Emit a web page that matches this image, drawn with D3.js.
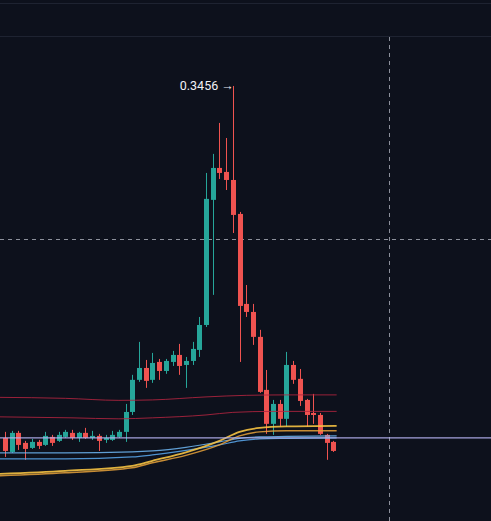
<!DOCTYPE html>
<html>
<head>
<meta charset="utf-8">
<script src="https://cdn.jsdelivr.net/npm/d3@7"></script>
<style>
  html, body { margin: 0; padding: 0; background: #0d111c; overflow: hidden; }
  #chart { width: 491px; height: 521px; }
</style>
</head>
<body>
<div id="chart"></div>
<script>
// candles: [open, high, low, close]
var opens  = [0.1000,0.0902,0.1035,0.0965,0.0930,0.0972,0.0951,0.1007,0.0979,0.1007,
              0.1035,0.1000,0.1035,0.1000,0.1014,0.0986,0.0986,0.1007,0.1042,0.1181,
              0.1405,0.1488,0.1405,0.1530,0.1467,0.1530,0.1579,0.1509,0.1537,0.1614,
              0.1788,0.2661,0.2884,0.2856,0.2800,0.2563,0.1935,0.1879,0.1705,0.1335,
              0.1098,0.1237,0.1133,0.1509,0.1412,0.1265,0.1174,0.1160,0.1021,0.0972];
var highs  = [0.1042,0.1049,0.1049,0.0979,0.0993,0.0986,0.1042,0.1021,0.1042,0.1056,
              0.1056,0.1042,0.1070,0.1049,0.1028,0.1021,0.1049,0.1056,0.1237,0.1440,
              0.1670,0.1544,0.1593,0.1551,0.1551,0.1607,0.1656,0.1565,0.1670,0.1844,
              0.2849,0.2982,0.3198,0.3093,0.3456,0.2577,0.2067,0.1935,0.1754,0.1474,
              0.1265,0.1265,0.1600,0.1537,0.1481,0.1272,0.1307,0.1174,0.1028,0.0979];
var lows   = [0.0867,0.0895,0.0916,0.0847,0.0923,0.0923,0.0944,0.0944,0.0972,0.1000,
              0.0986,0.0972,0.0993,0.0986,0.0909,0.0965,0.0979,0.1000,0.0972,0.1160,
              0.1391,0.1349,0.1384,0.1405,0.1447,0.1502,0.1440,0.1349,0.1509,0.1565,
              0.1774,0.1998,0.2807,0.2730,0.2430,0.1530,0.1844,0.1649,0.1314,0.1028,
              0.1021,0.1077,0.1077,0.1377,0.1223,0.1077,0.1098,0.1021,0.0847,0.0902];
var closes = [0.0909,0.1035,0.0951,0.0923,0.0972,0.0944,0.1014,0.0965,0.1021,0.1042,
              0.1000,0.1035,0.1000,0.1014,0.0979,0.1000,0.1021,0.1042,0.1181,0.1405,
              0.1488,0.1398,0.1523,0.1467,0.1537,0.1579,0.1502,0.1537,0.1621,0.1788,
              0.2668,0.2884,0.2849,0.2800,0.2556,0.1921,0.1879,0.1705,0.1321,0.1098,
              0.1237,0.1133,0.1509,0.1405,0.1258,0.1160,0.1160,0.1028,0.0965,0.0909];

// overlay lines (index along the candles, value)
var redUpIdx   = [-1, 9, 17, 22, 30, 36, 42, 49.5];
var redUpVal   = [0.1283,0.1276,0.1262,0.1265,0.1286,0.1297,0.1300,0.1300];
var redLowIdx  = [-1, 10, 17, 22, 30, 34, 40, 49.5];
var redLowVal  = [0.1147,0.1140,0.1133,0.1140,0.1160,0.1178,0.1185,0.1185];
var maIdx      = [-1, 9, 19, 22, 27, 32, 35, 38, 42, 49.5];
var gold1Val   = [0.0749,0.0770,0.0805,0.0840,0.0899,0.0979,0.1042,0.1070,0.1080,0.1084];
var gold2Val   = [0.0735,0.0756,0.0791,0.0826,0.0878,0.0951,0.1014,0.1042,0.1049,0.1049];
var blue1Val   = [0.0895,0.0895,0.0902,0.0909,0.0934,0.0972,0.0997,0.1007,0.1010,0.1014];
var blue2Val   = [0.0853,0.0853,0.0867,0.0881,0.0913,0.0951,0.0979,0.0993,0.0997,0.1000];
var priceLine  = 0.1000;
var crossPrice = 0.2388;
var crossIdx   = 57.3;
var peakLabel  = "0.3456 \u2192";

var width = 491,
    height = 521;

var svg = d3.select("#chart").append("svg")
    .attr("width", width)
    .attr("height", height);

var x = d3.scaleLinear().domain([0, 49]).range([5, 333.3]);
var y = d3.scaleLinear().domain([0.0420, 0.4056]).range([521, 0]);

var up = "#26a69a", down = "#ef5350";

// frame lines at the top
svg.append("line").attr("x1", 0).attr("x2", width).attr("y1", 3.5).attr("y2", 3.5)
    .attr("stroke", "#1e2331").attr("stroke-width", 1);
svg.append("line").attr("x1", 0).attr("x2", width).attr("y1", 36.5).attr("y2", 36.5)
    .attr("stroke", "#1e2331").attr("stroke-width", 1);

// crosshair
svg.append("line")
    .attr("x1", 0).attr("x2", width)
    .attr("y1", Math.round(y(crossPrice)) + 0.5).attr("y2", Math.round(y(crossPrice)) + 0.5)
    .attr("stroke", "#8c909b").attr("stroke-dasharray", "4,4");
svg.append("line")
    .attr("x1", Math.round(x(crossIdx)) + 0.5).attr("x2", Math.round(x(crossIdx)) + 0.5)
    .attr("y1", 37).attr("y2", height)
    .attr("stroke", "#8c909b").attr("stroke-dasharray", "4,4");

var candles = d3.range(opens.length).map(function (i) {
    return { i: i, o: opens[i], h: highs[i], l: lows[i], c: closes[i] };
});

var g = svg.append("g");

g.selectAll(".wick")
    .data(candles)
    .enter().append("line")
    .attr("class", "wick")
    .attr("x1", function (d) { return Math.round(x(d.i)) + 0.5 })
    .attr("x2", function (d) { return Math.round(x(d.i)) + 0.5 })
    .attr("y1", function (d) { return y(d.h) })
    .attr("y2", function (d) { return y(d.l) })
    .attr("stroke", function (d) { return d.c >= d.o ? up : down })
    .attr("stroke-width", 1);

g.selectAll(".body")
    .data(candles)
    .enter().append("rect")
    .attr("class", "body")
    .attr("x", function (d) { return Math.round(x(d.i)) - 2 })
    .attr("width", 5)
    .attr("y", function (d) { return y(Math.max(d.o, d.c)) })
    .attr("height", function (d) { return Math.max(1, Math.abs(y(d.o) - y(d.c))) })
    .attr("fill", function (d) { return d.c >= d.o ? up : down });

// overlay lines
var line = d3.line()
    .x(function (d) { return x(d[0]) })
    .y(function (d) { return y(d[1]) })
    .curve(d3.curveMonotoneX);

function drawLine(idx, vals, color, w, op) {
    svg.append("path")
        .datum(d3.zip(idx, vals))
        .attr("d", line)
        .attr("fill", "none")
        .attr("stroke", color)
        .attr("stroke-width", w)
        .attr("stroke-opacity", op);
}

drawLine(redUpIdx, redUpVal, "#b3243f", 1, 0.85);
drawLine(redLowIdx, redLowVal, "#b3243f", 1, 0.85);
drawLine(maIdx, blue2Val, "#5aa9f0", 1.2, 0.85);
drawLine(maIdx, blue1Val, "#6fb7f5", 1.2, 0.85);
drawLine(maIdx, gold2Val, "#e8a23a", 1.5, 0.85);
drawLine(maIdx, gold1Val, "#f6c343", 1.8, 0.9);

// price line
svg.append("line")
    .attr("x1", 0).attr("x2", width)
    .attr("y1", y(priceLine)).attr("y2", y(priceLine))
    .attr("stroke", "#b5b3f2").attr("stroke-width", 1.2).attr("stroke-opacity", 0.9);

// peak label
var peak = d3.maxIndex(highs);
svg.append("text")
    .attr("x", x(peak) + 1)
    .attr("y", y(highs[peak]) + 4)
    .attr("text-anchor", "end")
    .attr("fill", "#f2f2f5")
    .style("font-family", "Roboto, 'Noto Sans', sans-serif")
    .style("font-size", "12.5px")
    .text(peakLabel);
</script>
</body>
</html>
